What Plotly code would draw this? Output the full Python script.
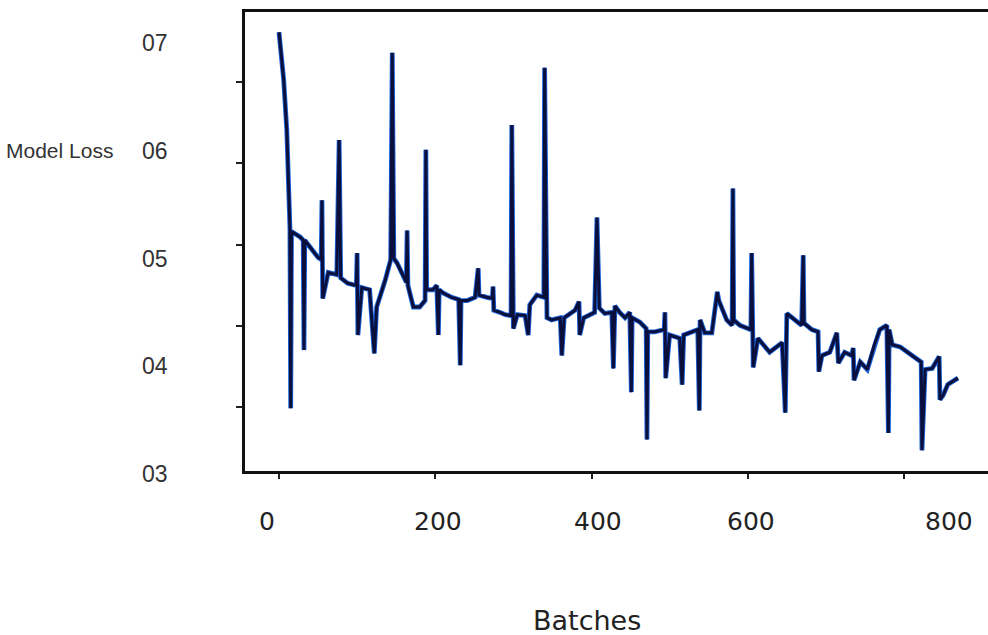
import plotly.graph_objects as go

# ---- data ----
batches = [0, 6, 10, 13, 14, 15, 16, 27, 31, 32, 33, 50, 54, 55, 56, 63, 74, 77, 79, 88,
           99, 100, 101, 106, 116, 122, 125, 136, 143, 145, 147, 151, 159, 163, 164, 165, 172, 180, 187, 188,
           189, 197, 202, 204, 205, 210, 221, 230, 232, 233, 241, 251, 255, 256, 266, 273, 274, 275, 283, 289,
           297, 298, 300, 305, 315, 319, 321, 330, 339, 340, 343, 349, 360, 362, 365, 379, 384, 385, 390, 404,
           407, 410, 417, 426, 428, 430, 436, 443, 449, 451, 452, 462, 470, 471, 472, 481, 493, 494, 495, 500,
           513, 516, 518, 526, 536, 538, 539, 545, 554, 561, 563, 573, 580, 581, 582, 590, 604, 605, 607, 613,
           628, 644, 648, 650, 660, 669, 671, 672, 682, 690, 691, 695, 705, 714, 716, 724, 733, 735, 736, 744,
           753, 762, 769, 778, 780, 781, 785, 795, 812, 822, 823, 827, 836, 845, 846, 850, 856, 869]
loss = [0.710, 0.666, 0.619, 0.554, 0.529, 0.361, 0.525, 0.520, 0.517, 0.415, 0.517, 0.501, 0.499, 0.554, 0.463, 0.487, 0.485, 0.610, 0.482, 0.477,
        0.475, 0.505, 0.429, 0.473, 0.471, 0.412, 0.455, 0.480, 0.499, 0.691, 0.500, 0.496, 0.483, 0.478, 0.526, 0.475, 0.455, 0.455, 0.461, 0.601,
        0.471, 0.471, 0.475, 0.429, 0.471, 0.468, 0.464, 0.462, 0.401, 0.461, 0.461, 0.464, 0.491, 0.466, 0.464, 0.463, 0.474, 0.452, 0.450, 0.448,
        0.447, 0.624, 0.435, 0.448, 0.447, 0.429, 0.457, 0.466, 0.464, 0.677, 0.445, 0.443, 0.445, 0.410, 0.445, 0.452, 0.460, 0.429, 0.445, 0.450,
        0.538, 0.454, 0.449, 0.450, 0.398, 0.456, 0.450, 0.445, 0.450, 0.376, 0.445, 0.441, 0.435, 0.332, 0.432, 0.432, 0.434, 0.450, 0.389, 0.429,
        0.426, 0.383, 0.429, 0.431, 0.434, 0.359, 0.443, 0.431, 0.431, 0.469, 0.461, 0.443, 0.438, 0.565, 0.443, 0.438, 0.434, 0.505, 0.399, 0.426,
        0.413, 0.422, 0.357, 0.449, 0.443, 0.438, 0.503, 0.440, 0.434, 0.432, 0.395, 0.410, 0.413, 0.431, 0.403, 0.413, 0.410, 0.417, 0.387, 0.404,
        0.397, 0.420, 0.434, 0.438, 0.338, 0.434, 0.420, 0.418, 0.409, 0.404, 0.322, 0.397, 0.398, 0.409, 0.369, 0.373, 0.383, 0.389]

x_tick_vals = [0, 200, 400, 600, 800]
x_tick_text = ["0", "200", "400", "600", "800"]
y_tick_vals = [0.7, 0.6, 0.5, 0.4, 0.3]
y_tick_text = ["07", "06", "05", "04", "03"]
x_title = "Batches"
y_title = "Model Loss"

# ---- style ----
y_range = [0.3028, 0.7288]
x_range = [-43.5, 907.5]
x_label_shift = [-12, 3, 6, 3, 45]
narrow = "Liberation Sans Narrow, Arial Narrow, Liberation Sans, Arial, sans-serif"
wide = "DejaVu Sans, Verdana, sans-serif"


def y_paper(v):
    return (v - y_range[0]) / (y_range[1] - y_range[0])


fig = go.Figure()
fig.add_trace(go.Scatter(x=batches, y=loss, mode="lines",
                         line=dict(color="#1c62d8", width=4.8), hoverinfo="skip", showlegend=False))
fig.add_trace(go.Scatter(x=batches, y=loss, mode="lines",
                         line=dict(color="#0b0f3c", width=3.0), showlegend=False))

annotations = []
for v, t in zip(y_tick_vals, y_tick_text):
    annotations.append(dict(xref="paper", x=0, xanchor="right", xshift=-75,
                            yref="paper", y=y_paper(v), yanchor="middle", text=t, showarrow=False,
                            font=dict(family=narrow, size=23, color="#333333")))
for v, t, s in zip(x_tick_vals, x_tick_text, x_label_shift):
    annotations.append(dict(xref="x", x=v, xanchor="center", xshift=s,
                            yref="paper", y=-0.111, yanchor="middle", text=t, showarrow=False,
                            font=dict(family=wide, size=25, color="#222222")))
annotations.append(dict(xref="paper", x=0, xanchor="right", xshift=-130,
                        yref="paper", y=y_paper(0.6), yanchor="middle", text=y_title, showarrow=False,
                        font=dict(family=narrow, size=21, color="#333333")))
annotations.append(dict(xref="paper", x=0.46, xanchor="center",
                        yref="paper", y=-0.325, yanchor="middle", text=x_title, showarrow=False,
                        font=dict(family=wide, size=27, color="#222222")))

fig.update_layout(
    width=988, height=635,
    margin=dict(l=245, r=0, t=12, b=164),
    paper_bgcolor="white", plot_bgcolor="white",
    annotations=annotations,
    xaxis=dict(range=x_range, showgrid=False, zeroline=False,
               showline=True, linecolor="#111111", linewidth=3, mirror=True,
               ticks="outside", ticklen=5, tickwidth=2, tickcolor="#222222",
               tickvals=x_tick_vals, showticklabels=False),
    yaxis=dict(range=y_range, showgrid=False, zeroline=False,
               showline=True, linecolor="#111111", linewidth=3,
               ticks="outside", ticklen=6, tickwidth=2, tickcolor="#222222",
               tick0=0.3622, dtick=0.0754, showticklabels=False),
)

fig.write_html("out.html", config={"displayModeBar": False},
               post_script="document.body.style.margin='0';document.body.style.overflow='hidden';")
